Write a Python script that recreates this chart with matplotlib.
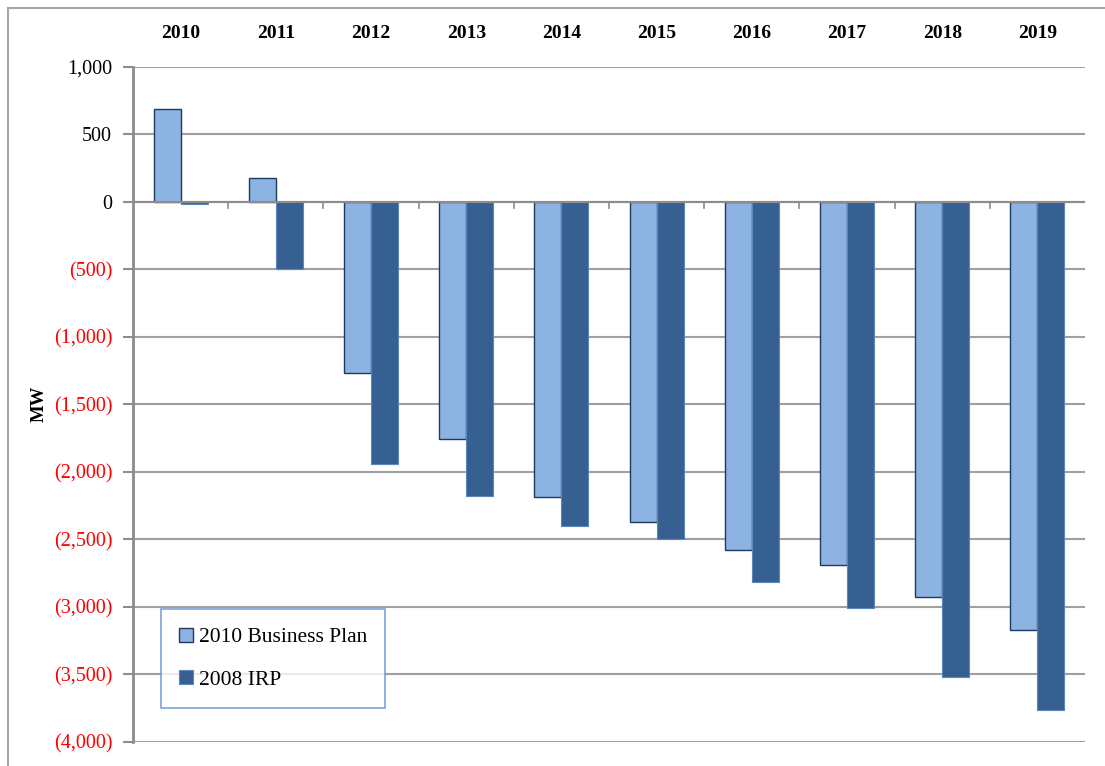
import numpy as np
import matplotlib.pyplot as plt
from matplotlib.patches import Rectangle

years = ["2010", "2011", "2012", "2013", "2014", "2015", "2016", "2017", "2018", "2019"]
business_plan = [690, 175, -1270, -1760, -2185, -2375, -2580, -2690, -2930, -3170]
irp_2008 = [-15, -495, -1940, -2180, -2400, -2500, -2820, -3010, -3520, -3765]
y_ticks = [1000, 500, 0, -500, -1000, -1500, -2000, -2500, -3000, -3500, -4000]

plt.rcParams["font.family"] = ["Liberation Serif", "DejaVu Serif"]

fig = plt.figure(figsize=(11.05, 7.66), dpi=100)
ax = fig.add_axes([133 / 1105, 1 - 741.7 / 766, (1085 - 133) / 1105, (741.7 - 66.7) / 766])

x = np.arange(len(years))
w = 0.284
ax.bar(x - w / 2, business_plan, w, color="#8db3e2", edgecolor="#1f3a60", linewidth=1.0,
       label="2010 Business Plan", zorder=3)
ax.bar(x + w / 2, irp_2008, w, color="#376092", edgecolor="#5b86bb", linewidth=0.8,
       label="2008 IRP", zorder=3)

ax.set_xlim(-0.5, len(years) - 0.5)
ax.set_ylim(-4000, 1000)

# y axis labels: negatives in parentheses and red
def fmt(v):
    if v < 0:
        return "({:,})".format(-v)
    return "{:,}".format(v)

ax.set_yticks(y_ticks)
ax.set_yticklabels([fmt(v) for v in y_ticks], fontsize=14.5)
for lab, v in zip(ax.get_yticklabels(), y_ticks):
    lab.set_color("red" if v < 0 else "black")
ax.tick_params(axis="y", length=7, width=1.5, color="#8c8c8c", pad=8)
ax.yaxis.grid(True, color="#a0a0a0", linewidth=1.5, zorder=0)

# zero line with category-boundary ticks
ax.axhline(0, color="#8c8c8c", linewidth=1.5, zorder=4)
for b in np.arange(0.5, len(years) - 0.5, 1.0):
    ax.plot([b, b], [0, -50], color="#8c8c8c", linewidth=1.2, zorder=4)
ax.set_xticks([])

# year labels above the plot area
for i, yr in enumerate(years):
    ax.text(i, 1.042, yr, transform=ax.get_xaxis_transform(), ha="center", va="baseline",
            fontsize=14, fontweight="bold")

for side in ["top", "right", "bottom"]:
    ax.spines[side].set_visible(False)
ax.spines["left"].set_color("#8c8c8c")
ax.spines["left"].set_linewidth(2)

ax.set_ylabel("MW", fontsize=13.5, fontweight="bold", labelpad=4)

leg = ax.legend(loc="lower left", bbox_to_anchor=((161 - 133) / 952, (741.7 - 708) / 675),
                fontsize=15.5, frameon=True, fancybox=False, handlelength=0.65, handleheight=0.65,
                handletextpad=0.25, labelspacing=1.05, borderpad=0.85, borderaxespad=0)
leg.get_frame().set_edgecolor("#5b8fd0")
leg.get_frame().set_linewidth(1.2)

# outer chart border
fig.add_artist(Rectangle((8 / 1105, -0.1), 1.2, 1 - 8 / 766 + 0.1, transform=fig.transFigure,
                         fill=False, edgecolor="#a6a6a6", linewidth=1.5))

fig.savefig("out.png", dpi=100)
